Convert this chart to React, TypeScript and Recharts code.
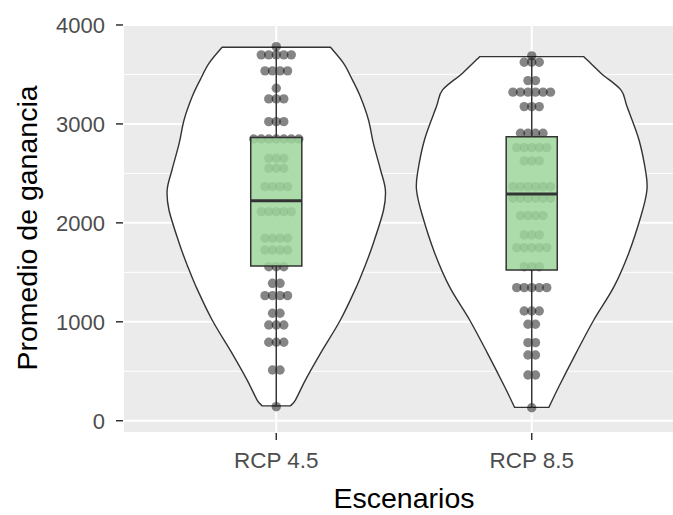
import React from 'react';
import { ComposedChart, Scatter, XAxis, YAxis, CartesianGrid } from 'recharts';

// ---------- data ----------
const categories = ['RCP 4.5', 'RCP 8.5'];
const categoryPos = [1, 2];
const yMajorTicks = [0, 1000, 2000, 3000, 4000];
const yMinorTicks = [500, 1500, 2500, 3500];

// violin outlines: value levels (top -> bottom) and half widths (category units)
const violin45Y = [3775, 3614, 3445, 3276, 3040, 2805, 2537, 2335, 2130, 1794, 1575, 1355, 1018, 681, 411, 209, 150];
const violin45W = [0.212, 0.263, 0.298, 0.329, 0.361, 0.38, 0.408, 0.427, 0.42, 0.38, 0.349, 0.314, 0.251, 0.173, 0.114, 0.075, 0.055];
const violin85Y = [3680, 3513, 3344, 3175, 2838, 2504, 2332, 2100, 1696, 1355, 1018, 681, 344, 135];
const violin85W = [0.204, 0.271, 0.349, 0.373, 0.42, 0.447, 0.451, 0.431, 0.38, 0.322, 0.243, 0.173, 0.106, 0.067];

// box stats: min, q1, median, q3, max
const box45 = [142, 1564, 2224, 2862, 3781];
const box85 = [131, 1524, 2292, 2870, 3688];

// dot rows: bin value and number of dots
const dots45Y = [3781, 3698, 3536, 3361, 3253, 3023, 2848, 2653, 2552, 2366, 2113, 1844, 1726, 1557, 1389, 1264, 1086, 968, 793, 513, 142];
const dots45N = [1, 5, 4, 1, 3, 3, 7, 3, 3, 4, 5, 4, 4, 3, 2, 4, 2, 3, 3, 2, 1];
const dots85Y = [3688, 3624, 3438, 3321, 3175, 2906, 2760, 2626, 2366, 2249, 2073, 1878, 1749, 1557, 1345, 1109, 975, 789, 664, 462, 131];
const dots85N = [1, 3, 2, 6, 3, 4, 5, 3, 6, 6, 4, 3, 5, 3, 5, 3, 2, 2, 2, 2, 1];

// ---------- layout constants ----------
const BOX_HALF = 0.1;
const DOT_STEP = 0.0294;
const FONT = '"Liberation Sans", Arial, sans-serif';
const DARK = '#333333';

type P = { x: number; y: number };

function violinPoints(pos: number, ys: number[], ws: number[]): P[] {
  const left = ys.map((y, i) => ({ x: pos - ws[i], y }));
  const right = ys.map((y, i) => ({ x: pos + ws[i], y })).reverse();
  return [...left, ...right];
}
function dotPoints(pos: number, ys: number[], ns: number[]): P[] {
  const out: P[] = [];
  ys.forEach((y, i) => {
    const n = ns[i];
    for (let k = 0; k < n; k++) out.push({ x: pos + (k - (n - 1) / 2) * DOT_STEP, y });
  });
  return out;
}
function boxPoints(pos: number, b: number[]): P[] {
  return [
    { x: pos - BOX_HALF, y: b[1] },
    { x: pos + BOX_HALF, y: b[1] },
    { x: pos + BOX_HALF, y: b[3] },
    { x: pos - BOX_HALF, y: b[3] },
  ];
}

function catmull(pts: P[]): string {
  let d = '';
  for (let i = 0; i < pts.length - 1; i++) {
    const p0 = pts[i - 1] || pts[i];
    const p1 = pts[i];
    const p2 = pts[i + 1];
    const p3 = pts[i + 2] || p2;
    const c1x = p1.x + (p2.x - p0.x) / 6;
    const c1y = p1.y + (p2.y - p0.y) / 6;
    const c2x = p2.x - (p3.x - p1.x) / 6;
    const c2y = p2.y - (p3.y - p1.y) / 6;
    d += ` C${c1x},${c1y} ${c2x},${c2y} ${p2.x},${p2.y}`;
  }
  return d;
}

const renderViolin = (props: any) => {
  const pts: P[] = props.points;
  const n = pts.length / 2;
  const left = pts.slice(0, n);
  const right = pts.slice(n);
  const d = `M${left[0].x},${left[0].y}` + catmull(left) + ` L${right[0].x},${right[0].y}` + catmull(right) + ' Z';
  return <path d={d} fill="#FFFFFF" stroke={DARK} strokeWidth={1.4} />;
};

const renderBox = (props: any) => {
  const pts: P[] = props.points;
  const d = pts.map((p, i) => `${i === 0 ? 'M' : 'L'}${p.x},${p.y}`).join(' ') + ' Z';
  return <path d={d} fill="#9ED69A" fillOpacity={0.85} stroke={DARK} strokeWidth={1.5} />;
};

const renderSeg = (w: number) => (props: any) => {
  const pts: P[] = props.points;
  return <line x1={pts[0].x} y1={pts[0].y} x2={pts[1].x} y2={pts[1].y} stroke={DARK} strokeWidth={w} />;
};

const noShape = () => <g />;
const dotShape = (p: any) => <circle cx={p.cx} cy={p.cy} r={4.7} fill="#000000" fillOpacity={0.48} />;

const YTitle = (props: any) => {
  const vb = props.viewBox || { x: 0, y: 23, width: 123, height: 410 };
  const x = vb.x + 37;
  const y = vb.y + vb.height / 2;
  return (
    <text x={x} y={y} transform={`rotate(-90 ${x} ${y})`} textAnchor="middle" fontSize={28.5} fill="#000000" fontFamily={FONT}>
      Promedio de ganancia
    </text>
  );
};
const XTitle = (props: any) => {
  const vb = props.viewBox || { x: 123, y: 433, width: 562, height: 82 };
  return (
    <text x={vb.x + vb.width / 2} y={vb.y + 74.5} textAnchor="middle" fontSize={28.5} fill="#000000" fontFamily={FONT}>
      Escenarios
    </text>
  );
};

export default function App() {
  const groups = [
    { pos: categoryPos[0], vY: violin45Y, vW: violin45W, box: box45, dY: dots45Y, dN: dots45N },
    { pos: categoryPos[1], vY: violin85Y, vW: violin85W, box: box85, dY: dots85Y, dN: dots85N },
  ];
  return (
    <div style={{ position: 'fixed', left: 0, top: 0, width: 673, height: 515, overflow: 'hidden', background: '#FFFFFF', fontFamily: FONT }}>
      <ComposedChart width={700} height={515} margin={{ top: 23, right: 15, bottom: 0, left: 0 }}>
        <CartesianGrid stroke="#FFFFFF" strokeWidth={2} fill="#EBEBEB" fillOpacity={1} />
        <CartesianGrid yAxisId="minor" vertical={false} stroke="#FFFFFF" strokeWidth={1} />
        <XAxis
          type="number"
          dataKey="x"
          domain={[0.4, 2.6]}
          ticks={categoryPos}
          allowDataOverflow
          interval={0}
          tickFormatter={(v: number) => categories[categoryPos.indexOf(v)] ?? ''}
          height={82}
          axisLine={false}
          tickSize={7}
          tickMargin={12}
          tickLine={{ stroke: DARK, strokeWidth: 1.5 }}
          tick={{ fill: '#4D4D4D', fontSize: 22.5, fontFamily: FONT }}
          label={XTitle}
        />
        <YAxis
          type="number"
          dataKey="y"
          domain={[-124, 4020]}
          ticks={yMajorTicks}
          allowDataOverflow
          interval={0}
          width={123}
          axisLine={false}
          tickSize={7}
          tickMargin={11}
          tickLine={{ stroke: DARK, strokeWidth: 1.5 }}
          tick={{ fill: '#4D4D4D', fontSize: 22, fontFamily: FONT }}
          label={YTitle}
        />
        <YAxis yAxisId="minor" type="number" dataKey="y" domain={[-124, 4020]} ticks={yMinorTicks} allowDataOverflow interval={0} hide />
        {groups.map((g, i) => (
          <Scatter
            key={`violin${i}`}
            data={violinPoints(g.pos, g.vY, g.vW)}
            line={renderViolin}
            shape={noShape}
            isAnimationActive={false}
          />
        ))}
        {groups.map((g, i) => (
          <Scatter key={`dots${i}`} data={dotPoints(g.pos, g.dY, g.dN)} shape={dotShape} isAnimationActive={false} />
        ))}
        {groups.map((g, i) => (
          <Scatter
            key={`wlo${i}`}
            data={[{ x: g.pos, y: g.box[0] }, { x: g.pos, y: g.box[1] }]}
            line={renderSeg(1.5)}
            shape={noShape}
            isAnimationActive={false}
          />
        ))}
        {groups.map((g, i) => (
          <Scatter
            key={`whi${i}`}
            data={[{ x: g.pos, y: g.box[3] }, { x: g.pos, y: g.box[4] }]}
            line={renderSeg(1.5)}
            shape={noShape}
            isAnimationActive={false}
          />
        ))}
        {groups.map((g, i) => (
          <Scatter key={`box${i}`} data={boxPoints(g.pos, g.box)} line={renderBox} shape={noShape} isAnimationActive={false} />
        ))}
        {groups.map((g, i) => (
          <Scatter
            key={`med${i}`}
            data={[{ x: g.pos - BOX_HALF, y: g.box[2] }, { x: g.pos + BOX_HALF, y: g.box[2] }]}
            line={renderSeg(3)}
            shape={noShape}
            isAnimationActive={false}
          />
        ))}
      </ComposedChart>
    </div>
  );
}
